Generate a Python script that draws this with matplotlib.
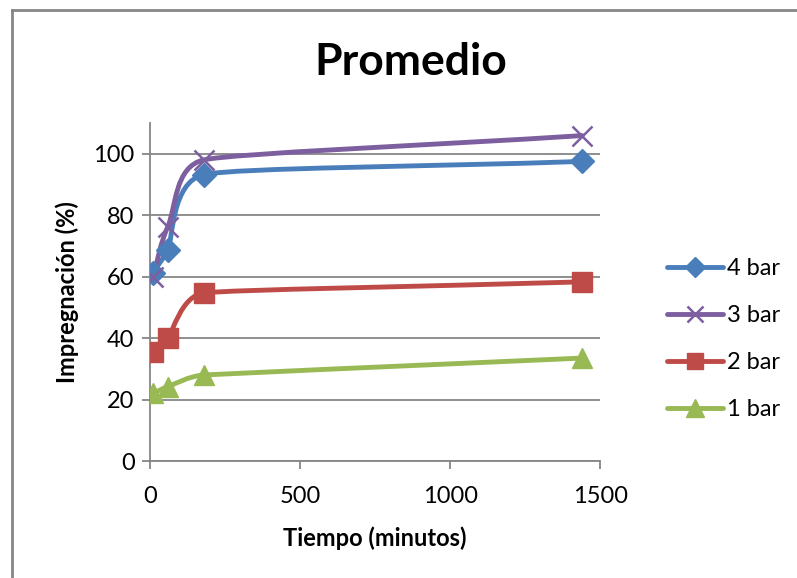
import numpy as np
import matplotlib.pyplot as plt
from matplotlib.path import Path
from matplotlib.patches import PathPatch
from matplotlib.lines import Line2D

plt.rcParams['font.family'] = ['Lato', 'DejaVu Sans']

tiempo = [10, 60, 180, 1440]
bar4 = [61.2, 68.7, 93.2, 97.5]
bar3 = [60.0, 76.3, 98.0, 105.9]
bar2 = [35.6, 40.0, 54.7, 58.3]
bar1 = [22.0, 24.2, 28.0, 33.5]

series = [
    ('4 bar', bar4, '#4A7EBB', 'D', 12),
    ('3 bar', bar3, '#7D5FA0', 'x', 14),
    ('2 bar', bar2, '#BE4B48', 's', 14),
    ('1 bar', bar1, '#98B954', '^', 15),
]

# approx pixel per data unit, only used to shape the smoothing
SX, SY = 0.3, 3.07


def smooth_path(x, y, k=0.4):
    # bezier through the points, tangents from the neighbours,
    # arm length limited by the shorter neighbouring segment (screen space)
    p = np.column_stack([np.array(x) * SX, np.array(y) * SY]).astype(float)
    n = len(p)
    seg = [np.hypot(*(p[i + 1] - p[i])) for i in range(n - 1)]
    tang, arm = [], []
    for i in range(n):
        a = p[i - 1] if i > 0 else p[i]
        b = p[i + 1] if i < n - 1 else p[i]
        d = b - a
        tang.append(d / np.hypot(*d))
        near = [seg[j] for j in (i - 1, i) if 0 <= j < n - 1]
        arm.append(k * min(near))
    verts = [p[0]]
    codes = [Path.MOVETO]
    for i in range(n - 1):
        a1 = min(arm[i], k * seg[i])
        a2 = min(arm[i + 1], k * seg[i]) if i + 1 < n - 1 else k * seg[i]
        verts += [p[i] + tang[i] * a1, p[i + 1] - tang[i + 1] * a2, p[i + 1]]
        codes += [Path.CURVE4] * 3
    verts = np.array(verts) / [SX, SY]
    return Path(verts, codes)


fig = plt.figure(figsize=(7.97, 5.78), dpi=100)
ax = fig.add_axes([0.188, 0.2024, 0.565, 0.5848])

handles = []
for name, vals, col, mk, ms in series:
    ax.add_patch(PathPatch(smooth_path(tiempo, vals), fc='none', ec=col,
                           lw=3.5, capstyle='round', joinstyle='round', zorder=3))
    mew = 1.8 if mk == 'x' else 1
    ax.plot(tiempo, vals, ls='none', marker=mk, ms=ms, color=col,
            mec=col, mew=mew, zorder=4)
    handles.append(Line2D([], [], color=col, lw=3.5, marker=mk,
                          ms=ms * 0.85, mew=mew, solid_capstyle='round'))

ax.set_xlim(0, 1500)
ax.set_ylim(0, 110)
ax.set_xticks([0, 500, 1000, 1500])
ax.set_yticks(range(0, 101, 20))
ax.grid(axis='y', color='#868686', lw=1.3)
ax.set_axisbelow(True)
for s in ['top', 'right']:
    ax.spines[s].set_visible(False)
for s in ['left', 'bottom']:
    ax.spines[s].set_color('#868686')
    ax.spines[s].set_linewidth(1.3)
ax.tick_params(direction='out', length=6, width=1.3, color='#868686',
               labelsize=17, pad=5)
ax.tick_params(axis='x', pad=12)

ax.set_xlabel('Tiempo (minutos)', fontsize=17, fontweight='bold', labelpad=14)
ax.set_ylabel('Impregnación (%)', fontsize=17, fontweight='bold', labelpad=10)
fig.text(0.515, 0.893, 'Promedio', fontsize=32, fontweight='bold',
         ha='center', va='center')

fig.legend(handles, [s[0] for s in series], loc='center left',
           bbox_to_anchor=(0.837, 0.4135), frameon=False, fontsize=17,
           handlelength=2.35, handletextpad=0.2, labelspacing=1.1,
           borderpad=0, borderaxespad=0)

# chart area border (only top and left visible in the original)
fig.add_artist(Line2D([0.0145, 0.0145], [0, 0.982], transform=fig.transFigure,
                      color='#868686', lw=2))
fig.add_artist(Line2D([0.0145, 1], [0.982, 0.982], transform=fig.transFigure,
                      color='#868686', lw=2))

fig.savefig('out.png', dpi=100)
